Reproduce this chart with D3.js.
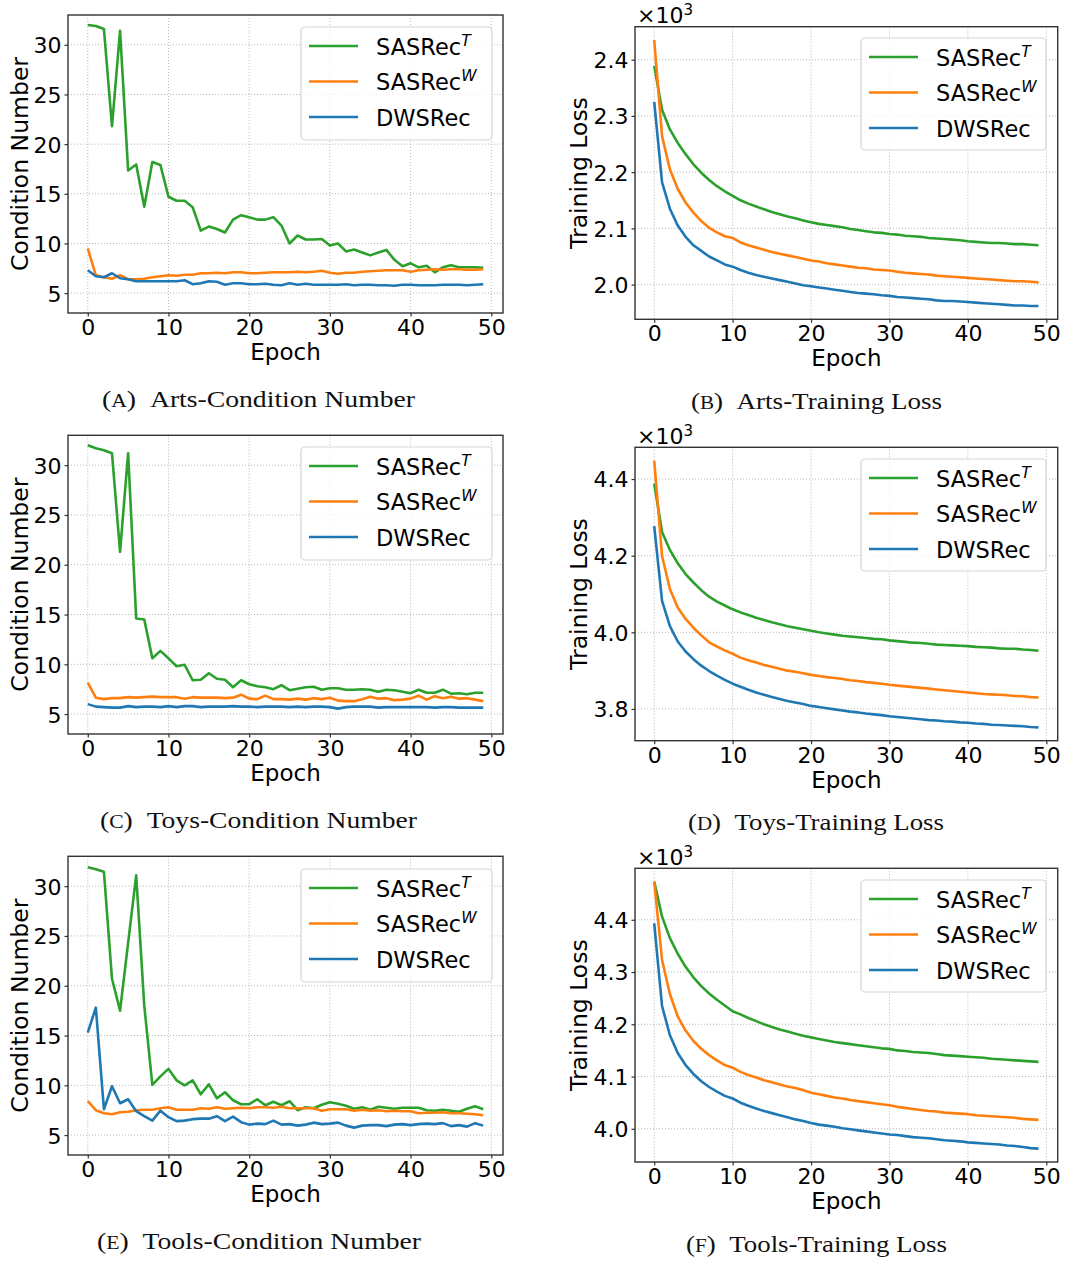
<!DOCTYPE html>
<html><head><meta charset="utf-8">
<script src="https://cdn.jsdelivr.net/npm/d3@7"></script>
<style>body{margin:0;background:#fff;}svg{display:block;}</style>
</head><body>
<svg id="c" width="1088" height="1265"></svg>
<script>
const epochs = d3.range(50);
const xTicks = [0,10,20,30,40,50];
const seriesNames = ["SASRec", "SASRec", "DWSRec"];
const seriesSups = ["T", "W", ""];
const colors = ["#2ca02c", "#ff7f0e", "#1f77b4"];

// (A) Arts condition number
const artsCondT = [32.0,31.9,31.6,21.8,31.4,17.35,17.95,13.7,18.2,17.9,14.7,14.3,14.3,13.65,11.3,11.7,11.45,11.1,12.4,12.85,12.65,12.4,12.4,12.65,11.8,10.0,10.8,10.4,10.4,10.45,9.8,10.0,9.2,9.4,9.1,8.8,9.1,9.35,8.35,7.7,8.0,7.6,7.75,7.1,7.6,7.8,7.6,7.6,7.6,7.55];
const artsCondW = [9.5,6.8,6.6,6.45,6.8,6.4,6.4,6.45,6.6,6.7,6.8,6.75,6.85,6.85,7.0,7.0,7.05,7.0,7.1,7.1,7.0,7.0,7.05,7.1,7.1,7.1,7.15,7.1,7.15,7.25,7.05,6.95,7.05,7.05,7.15,7.2,7.25,7.3,7.3,7.3,7.15,7.3,7.35,7.4,7.35,7.4,7.4,7.35,7.35,7.4];
const artsCondD = [7.3,6.7,6.6,7.0,6.5,6.4,6.2,6.2,6.2,6.2,6.2,6.2,6.3,5.9,6.0,6.2,6.15,5.85,6.0,6.0,5.9,5.9,5.95,5.85,5.8,6.0,5.85,5.95,5.85,5.85,5.85,5.85,5.9,5.8,5.85,5.85,5.8,5.8,5.75,5.85,5.85,5.8,5.8,5.8,5.85,5.85,5.85,5.8,5.85,5.9];
// (B) Arts training loss (x10^3)
const artsLossT = [2.389,2.311,2.276,2.252,2.232,2.214,2.199,2.186,2.175,2.166,2.158,2.150,2.144,2.139,2.134,2.129,2.125,2.121,2.118,2.114,2.111,2.108,2.106,2.104,2.102,2.099,2.097,2.095,2.093,2.092,2.090,2.089,2.087,2.086,2.085,2.083,2.082,2.081,2.080,2.079,2.077,2.076,2.075,2.074,2.074,2.073,2.072,2.072,2.071,2.070];
const artsLossW = [2.435,2.264,2.205,2.170,2.146,2.128,2.113,2.101,2.093,2.086,2.083,2.075,2.070,2.066,2.062,2.058,2.055,2.052,2.049,2.046,2.043,2.041,2.038,2.036,2.034,2.032,2.030,2.029,2.027,2.026,2.025,2.023,2.021,2.020,2.019,2.018,2.016,2.015,2.014,2.013,2.012,2.011,2.010,2.009,2.008,2.007,2.006,2.006,2.005,2.004];
const artsLossD = [2.325,2.182,2.135,2.105,2.085,2.070,2.060,2.050,2.043,2.036,2.032,2.026,2.021,2.017,2.014,2.011,2.008,2.005,2.002,1.999,1.997,1.995,1.993,1.991,1.989,1.987,1.985,1.984,1.983,1.981,1.980,1.978,1.977,1.976,1.975,1.974,1.972,1.971,1.971,1.970,1.969,1.968,1.967,1.966,1.965,1.964,1.963,1.963,1.962,1.962];
// (C) Toys condition number
const toysCondT = [32.0,31.7,31.5,31.2,21.3,31.2,14.6,14.5,10.6,11.35,10.6,9.8,9.95,8.4,8.45,9.1,8.55,8.45,7.7,8.4,8.0,7.8,7.7,7.5,7.9,7.4,7.55,7.7,7.75,7.45,7.6,7.6,7.45,7.45,7.5,7.45,7.25,7.45,7.4,7.25,7.1,7.45,7.15,7.15,7.45,7.05,7.1,7.0,7.15,7.15];
const toysCondW = [8.15,6.65,6.5,6.6,6.6,6.7,6.65,6.7,6.75,6.7,6.7,6.7,6.55,6.7,6.65,6.65,6.65,6.6,6.65,6.95,6.55,6.5,6.85,6.5,6.5,6.45,6.55,6.45,6.6,6.5,6.65,6.35,6.3,6.3,6.5,6.75,6.55,6.6,6.4,6.45,6.55,6.85,6.45,6.8,6.6,6.75,6.55,6.6,6.45,6.3];
const toysCondD = [6.0,5.75,5.7,5.65,5.65,5.8,5.7,5.75,5.75,5.7,5.8,5.7,5.8,5.8,5.7,5.75,5.75,5.75,5.8,5.75,5.75,5.7,5.75,5.75,5.75,5.7,5.75,5.7,5.75,5.75,5.7,5.55,5.7,5.75,5.75,5.75,5.65,5.7,5.7,5.7,5.7,5.7,5.7,5.65,5.7,5.7,5.65,5.65,5.65,5.65];
// (D) Toys training loss (x10^3)
const toysLossT = [4.388,4.262,4.215,4.180,4.152,4.130,4.110,4.093,4.080,4.070,4.060,4.052,4.045,4.038,4.032,4.026,4.021,4.016,4.012,4.008,4.004,4.000,3.997,3.994,3.991,3.989,3.987,3.985,3.983,3.982,3.979,3.977,3.975,3.973,3.972,3.970,3.968,3.967,3.966,3.965,3.964,3.962,3.961,3.960,3.958,3.957,3.957,3.955,3.954,3.952];
const toysLossW = [4.448,4.199,4.113,4.065,4.035,4.012,3.992,3.974,3.963,3.953,3.944,3.934,3.927,3.921,3.915,3.910,3.905,3.900,3.897,3.893,3.889,3.886,3.883,3.881,3.878,3.875,3.873,3.870,3.868,3.866,3.863,3.861,3.859,3.857,3.855,3.853,3.851,3.849,3.847,3.845,3.843,3.841,3.839,3.838,3.837,3.836,3.834,3.833,3.831,3.830];
const toysLossD = [4.277,4.082,4.016,3.976,3.950,3.930,3.913,3.899,3.887,3.876,3.866,3.858,3.850,3.843,3.837,3.831,3.826,3.821,3.817,3.813,3.808,3.805,3.802,3.799,3.796,3.793,3.791,3.788,3.786,3.784,3.781,3.779,3.777,3.775,3.773,3.771,3.770,3.768,3.767,3.765,3.764,3.762,3.761,3.759,3.758,3.757,3.756,3.755,3.753,3.752];
// (E) Tools condition number
const toolsCondT = [31.9,31.7,31.45,20.7,17.5,24.3,31.1,18.0,10.05,10.9,11.65,10.5,10.0,10.5,9.1,10.1,8.7,9.3,8.5,8.1,8.1,8.6,8.0,8.35,8.0,8.4,7.5,7.8,7.7,8.05,8.3,8.15,7.95,7.65,7.8,7.55,7.85,7.75,7.65,7.75,7.75,7.75,7.5,7.45,7.55,7.45,7.35,7.65,7.9,7.6];
const toolsCondW = [8.4,7.5,7.2,7.1,7.3,7.35,7.5,7.55,7.55,7.7,7.8,7.55,7.55,7.55,7.7,7.65,7.8,7.65,7.7,7.75,7.7,7.8,7.8,7.75,7.85,7.7,7.7,7.7,7.7,7.45,7.6,7.6,7.6,7.45,7.55,7.45,7.5,7.4,7.45,7.4,7.4,7.2,7.25,7.25,7.3,7.2,7.2,7.15,7.1,7.0];
const toolsCondD = [15.3,17.8,7.6,9.9,8.2,8.6,7.4,6.9,6.45,7.45,6.8,6.4,6.45,6.6,6.65,6.65,6.9,6.4,6.85,6.3,6.05,6.15,6.1,6.45,6.05,6.1,5.95,6.05,6.25,6.1,6.15,6.25,5.95,5.75,5.95,6.0,6.0,5.9,6.05,6.1,6.0,6.1,6.15,6.1,6.2,5.9,6.0,5.85,6.2,5.95];
// (F) Tools training loss (x10^3)
const toolsLossT = [4.473,4.406,4.365,4.335,4.310,4.290,4.273,4.259,4.247,4.236,4.225,4.219,4.212,4.206,4.200,4.195,4.190,4.186,4.182,4.178,4.175,4.172,4.169,4.166,4.164,4.162,4.160,4.158,4.156,4.154,4.153,4.150,4.149,4.147,4.146,4.145,4.143,4.141,4.140,4.139,4.138,4.137,4.136,4.134,4.133,4.132,4.131,4.130,4.129,4.128];
const toolsLossW = [4.473,4.323,4.258,4.215,4.188,4.168,4.153,4.141,4.131,4.122,4.117,4.109,4.103,4.098,4.093,4.089,4.085,4.081,4.078,4.074,4.069,4.066,4.063,4.060,4.058,4.055,4.053,4.051,4.049,4.047,4.045,4.042,4.040,4.038,4.036,4.034,4.033,4.031,4.030,4.029,4.028,4.026,4.025,4.024,4.023,4.022,4.021,4.019,4.018,4.017];
const toolsLossD = [4.393,4.235,4.179,4.145,4.122,4.105,4.091,4.080,4.071,4.063,4.058,4.050,4.044,4.039,4.034,4.030,4.026,4.022,4.018,4.015,4.011,4.008,4.006,4.004,4.001,3.999,3.997,3.995,3.993,3.991,3.989,3.988,3.986,3.984,3.983,3.982,3.980,3.978,3.977,3.976,3.974,3.973,3.972,3.971,3.970,3.968,3.967,3.965,3.963,3.962];

const condTicks = [5,10,15,20,25,30];
const condDomain = [3, 33];
const artsLossTicks = [2.0,2.1,2.2,2.3,2.4];
const toysLossTicks = [3.8,4.0,4.2,4.4];
const toolsLossTicks = [4.0,4.1,4.2,4.3,4.4];

const captions = [
  ["A","Arts-Condition Number"],["B","Arts-Training Loss"],
  ["C","Toys-Condition Number"],["D","Toys-Training Loss"],
  ["E","Tools-Condition Number"],["F","Tools-Training Loss"]
];

function padDomain(arrs){
  const all = arrs.flat();
  const [lo,hi] = d3.extent(all);
  const p = (hi-lo)*0.05;
  return [lo-p, hi+p];
}

const panels = [
  {box:[68,503,15,313], data:[artsCondT,artsCondW,artsCondD], domain:condDomain, ticks:condTicks, fmt:d3.format("d"), ylabel:"Condition Number", loss:false, cap:captions[0], capX:258.5, capY:407, capW:313, leg:[301,27,191,113]},
  {box:[635,1057.7,26.7,319.3], data:[artsLossT,artsLossW,artsLossD], domain:null, ticks:artsLossTicks, fmt:d3.format(".1f"), ylabel:"Training Loss", loss:true, cap:captions[1], capX:816.5, capY:409, capW:251, leg:[861,38,185,112]},
  {box:[68,503,435.3,734], data:[toysCondT,toysCondW,toysCondD], domain:condDomain, ticks:condTicks, fmt:d3.format("d"), ylabel:"Condition Number", loss:false, cap:captions[2], capX:258.5, capY:828, capW:317, leg:[301,447,191,113]},
  {box:[635,1057.7,447.3,740.7], data:[toysLossT,toysLossW,toysLossD], domain:null, ticks:toysLossTicks, fmt:d3.format(".1f"), ylabel:"Training Loss", loss:true, cap:captions[3], capX:816, capY:830, capW:256, leg:[861,459,185,112]},
  {box:[68,503,856.3,1155], data:[toolsCondT,toolsCondW,toolsCondD], domain:condDomain, ticks:condTicks, fmt:d3.format("d"), ylabel:"Condition Number", loss:false, cap:captions[4], capX:259, capY:1249, capW:324, leg:[301,869,191,113]},
  {box:[635,1057.7,868.3,1162], data:[toolsLossT,toolsLossW,toolsLossD], domain:null, ticks:toolsLossTicks, fmt:d3.format(".1f"), ylabel:"Training Loss", loss:true, cap:captions[5], capX:816.5, capY:1252, capW:261, leg:[861,880,185,112]}
];

const svg = d3.select("#c");
const FONT = "'DejaVu Sans', sans-serif";

panels.forEach(p => {
  const [x0,x1,y0,y1] = p.box;
  const x = d3.scaleLinear().domain([-2.45, 51.45]).range([x0,x1]);
  const y = d3.scaleLinear().domain(p.domain || padDomain(p.data)).range([y1,y0]);
  const g = svg.append("g");

  // grid
  g.append("g").selectAll("line").data(xTicks).join("line")
    .attr("x1", d=>x(d)).attr("x2", d=>x(d)).attr("y1", y0).attr("y2", y1)
    .attr("stroke","#b8b8b8").attr("stroke-width",1).attr("stroke-dasharray","1,2");
  g.append("g").selectAll("line").data(p.ticks).join("line")
    .attr("x1", x0).attr("x2", x1).attr("y1", d=>y(d)).attr("y2", d=>y(d))
    .attr("stroke","#b8b8b8").attr("stroke-width",1).attr("stroke-dasharray","1,2");

  // lines
  const line = d3.line().x((d,i)=>x(epochs[i])).y(d=>y(d));
  p.data.forEach((s,k) => {
    g.append("path").datum(s).attr("d", line).attr("fill","none")
      .attr("stroke", colors[k]).attr("stroke-width",2.6)
      .attr("stroke-linejoin","round").attr("stroke-linecap","butt");
  });

  // axes
  const xa = g.append("g").attr("transform",`translate(0,${y1})`)
    .call(d3.axisBottom(x).tickValues(xTicks).tickSize(3.5).tickPadding(3).tickFormat(d3.format("d")));
  const ya = g.append("g").attr("transform",`translate(${x0},0)`)
    .call(d3.axisLeft(y).tickValues(p.ticks).tickSize(3.5).tickPadding(3).tickFormat(p.fmt));
  [xa,ya].forEach(a => {
    a.select(".domain").remove();
    a.selectAll(".tick line").attr("stroke","#333").attr("stroke-width",1.2);
    a.selectAll(".tick text").attr("font-family",FONT).attr("font-size",22).attr("fill","#000");
  });
  xa.selectAll(".tick text").attr("dy","0.71em");
  ya.selectAll(".tick text").attr("dy","0.36em");

  // frame
  g.append("rect").attr("x",x0).attr("y",y0).attr("width",x1-x0).attr("height",y1-y0)
    .attr("fill","none").attr("stroke","#333").attr("stroke-width",1.4);

  // axis labels
  g.append("text").attr("x",(x0+x1)/2).attr("y",y1+47).attr("text-anchor","middle")
    .attr("font-family",FONT).attr("font-size",23).text("Epoch");
  const lx = p.loss ? x0-48.5 : x0-40;
  g.append("text").attr("transform",`translate(${lx},${(y0+y1)/2}) rotate(-90)`)
    .attr("text-anchor","middle").attr("font-family",FONT).attr("font-size",23.5).text(p.ylabel);

  if (p.loss) {
    const t = g.append("text").attr("x",x0+2).attr("y",y0-3.5).attr("font-family",FONT).attr("font-size",22);
    t.append("tspan").text("\u00d710");
    t.append("tspan").attr("dy",-8).attr("font-size",15).text("3");
  }

  // legend
  const [lx0,ly0,lw,lh] = p.leg;
  const lg = g.append("g");
  lg.append("rect").attr("x",lx0).attr("y",ly0).attr("width",lw).attr("height",lh)
    .attr("rx",4).attr("fill","rgba(255,255,255,0.8)").attr("stroke","#d6d6d6").attr("stroke-width",1.2);
  seriesNames.forEach((nm,k) => {
    const ly = ly0 + 19 + k*35.5;
    lg.append("line").attr("x1",lx0+8).attr("x2",lx0+57).attr("y1",ly).attr("y2",ly)
      .attr("stroke",colors[k]).attr("stroke-width",2.6);
    const t = lg.append("text").attr("x",lx0+75).attr("y",ly+8.5)
      .attr("font-family",FONT).attr("font-size",22.5);
    t.append("tspan").text(nm);
    if (seriesSups[k]) t.append("tspan").attr("dy",-9).attr("font-size",15.5).attr("font-style","italic").text(seriesSups[k]);
  });

  // caption
  const c = g.append("text").attr("x",p.capX - p.capW/2).attr("y",p.capY)
    .attr("textLength",p.capW).attr("lengthAdjust","spacingAndGlyphs")
    .attr("font-family","'Liberation Serif', 'DejaVu Serif', serif").attr("font-size",23).attr("fill","#111");
  c.append("tspan").text("(");
  c.append("tspan").attr("font-size",18).text(p.cap[0]);
  c.append("tspan").text(")\u2002" + p.cap[1]);
});
</script>
</body></html>
